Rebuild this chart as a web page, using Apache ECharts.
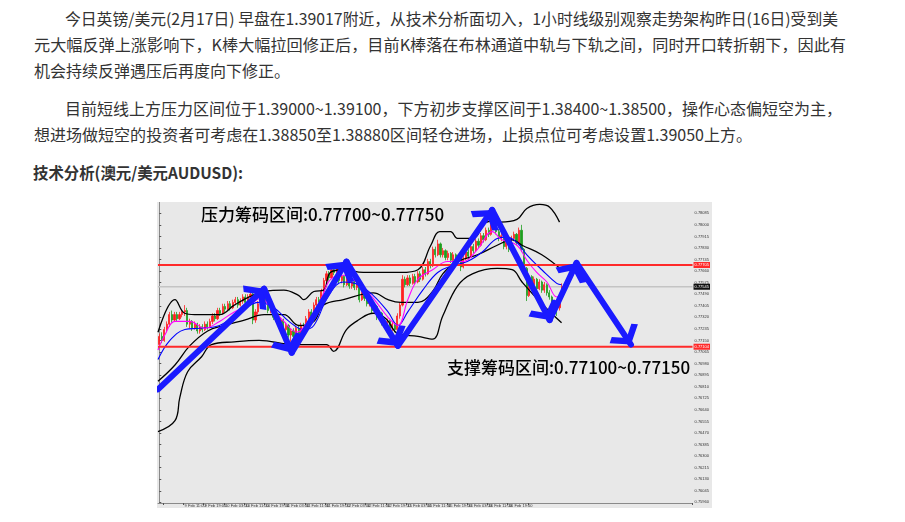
<!DOCTYPE html>
<html><head><meta charset="utf-8">
<script src="https://cdn.jsdelivr.net/npm/echarts@6/dist/echarts.min.js"></script>
<style>
html,body{margin:0;padding:0;background:#fff;width:905px;height:522px;overflow:hidden;}
.ln{position:absolute;white-space:nowrap;font-family:"Noto Sans CJK SC",sans-serif;font-size:16px;line-height:26px;color:#333;transform-origin:0 50%;}
.h{font-weight:bold;}
#chart{position:absolute;left:157px;top:202px;width:555px;height:306px;background:#e8e8e8;}
</style></head><body>
<div class="ln" style="left:65px;top:5px" data-w="773">今日英镑/美元(2月17日) 早盘在1.39017附近，从技术分析面切入，1小时线级别观察走势架构昨日(16日)受到美</div>
<div class="ln" style="left:34px;top:31px" data-w="812">元大幅反弹上涨影响下，K棒大幅拉回修正后，目前K棒落在布林通道中轨与下轨之间，同时开口转折朝下，因此有</div>
<div class="ln" style="left:34px;top:57px">机会持续反弹遇压后再度向下修正。</div>
<div class="ln" style="left:65px;top:95px" data-w="777">目前短线上方压力区间位于1.39000~1.39100，下方初步支撑区间于1.38400~1.38500，操作心态偏短空为主，</div>
<div class="ln" style="left:34px;top:121px" data-w="718">想进场做短空的投资者可考虑在1.38850至1.38880区间轻仓进场，止损点位可考虑设置1.39050上方。</div>
<div class="ln h" style="left:33px;top:159px" data-w="210">技术分析(澳元/美元AUDUSD):</div>
<div id="chart"></div>
<script>
// ---------- data ----------
const yTickValues = [0.78085,0.78000,0.77915,0.77830,0.77745,0.77660,0.77575,0.77490,0.77405,0.77320,0.77235,0.77150,0.77065,0.76980,0.76895,0.76810,0.76725,0.76640,0.76555,0.76470,0.76385,0.76300,0.76215,0.76130,0.76045,0.75960];
const xTickLabels = ['9 Feb 03:00','9 Feb 11:00','9 Feb 19:00','10 Feb 03:00','10 Feb 11:00','10 Feb 19:00','11 Feb 03:00','11 Feb 11:00','11 Feb 19:00','12 Feb 03:00','12 Feb 11:00','12 Feb 19:00','15 Feb 03:00','15 Feb 11:00','15 Feb 19:00','16 Feb 03:00','16 Feb 11:00','16 Feb 19:00','17 Feb 03:00'];
const xTickFirst = 2, xTickStep = 8, barSlots = 211;
// [open, close, low, high]
const candles = [
[.7712,.7718,.7710,.7720],[.7718,.7715,.7713,.7721],[.7715,.7723,.7714,.7725],[.7723,.7727,.7721,.7729],[.7727,.7734,.7725,.7736],
[.7734,.7730,.7728,.7737],[.7730,.7734,.7729,.7736],[.7734,.7731,.7729,.7736],[.7731,.7734,.7730,.7736],[.7734,.7736,.7732,.7738],
[.7736,.7737,.7733,.7741],[.7737,.7727,.7725,.7739],[.7727,.7729,.7724,.7731],[.7729,.7724,.7722,.7730],[.7724,.7727,.7723,.7729],
[.7727,.7722,.7720,.7728],[.7722,.7725,.7720,.7727],[.7725,.7723,.7721,.7727],[.7723,.7727,.7722,.7729],[.7727,.7725,.7723,.7729],
[.7725,.7729,.7724,.7731],[.7729,.7733,.7727,.7735],[.7733,.7731,.7729,.7735],[.7731,.7737,.7730,.7739],[.7737,.7735,.7733,.7739],
[.7735,.7740,.7734,.7742],[.7740,.7738,.7736,.7742],[.7738,.7742,.7737,.7744],[.7742,.7739,.7737,.7744],[.7739,.7743,.7738,.7745],
[.7743,.7745,.7741,.7747],[.7745,.7741,.7739,.7747],[.7741,.7744,.7740,.7746],[.7744,.7747,.7742,.7749],[.7747,.7743,.7741,.7749],
[.7743,.7747,.7742,.7749],[.7747,.7749,.7745,.7751],[.7749,.7730,.7727,.7750],[.7730,.7736,.7728,.7738],[.7736,.7742,.7734,.7744],
[.7742,.7749,.7740,.7751],[.7749,.7752,.7747,.7755],[.7752,.7744,.7742,.7754],[.7744,.7737,.7735,.7746],[.7737,.7740,.7735,.7742],
[.7740,.7732,.7730,.7741],[.7732,.7734,.7729,.7736],[.7734,.7727,.7725,.7735],[.7727,.7730,.7725,.7732],[.7730,.7723,.7721,.7731],
[.7723,.7726,.7721,.7728],[.7726,.7719,.7717,.7727],[.7719,.7722,.7714,.7724],[.7722,.7718,.7716,.7724],[.7718,.7724,.7717,.7726],
[.7724,.7720,.7718,.7726],[.7720,.7726,.7719,.7728],[.7726,.7724,.7722,.7728],[.7724,.7731,.7723,.7733],[.7731,.7736,.7729,.7738],
[.7736,.7733,.7731,.7738],[.7733,.7741,.7732,.7743],[.7741,.7745,.7739,.7747],[.7745,.7743,.7741,.7747],[.7743,.7751,.7742,.7753],
[.7751,.7759,.7749,.7761],[.7759,.7764,.7757,.7766],[.7764,.7761,.7759,.7766],[.7761,.7767,.7760,.7770],[.7767,.7765,.7763,.7769],
[.7765,.7768,.7763,.7771],[.7768,.7759,.7757,.7769],[.7759,.7762,.7757,.7764],[.7762,.7756,.7754,.7763],[.7756,.7760,.7755,.7762],
[.7760,.7755,.7753,.7761],[.7755,.7758,.7753,.7760],[.7758,.7754,.7752,.7760],[.7754,.7757,.7752,.7759],[.7757,.7745,.7743,.7758],
[.7745,.7750,.7744,.7752],[.7750,.7746,.7744,.7752],[.7746,.7742,.7740,.7748],[.7742,.7745,.7740,.7747],[.7745,.7737,.7735,.7746],
[.7737,.7740,.7735,.7742],[.7740,.7732,.7730,.7741],[.7732,.7735,.7730,.7737],[.7735,.7728,.7726,.7736],[.7728,.7726,.7724,.7731],
[.7726,.7729,.7724,.7731],[.7729,.7724,.7720,.7730],[.7724,.7727,.7722,.7729],[.7727,.7723,.7721,.7728],[.7723,.7733,.7722,.7735],
[.7733,.7741,.7731,.7743],[.7741,.7760,.7740,.7763],[.7760,.7756,.7754,.7762],[.7756,.7761,.7755,.7763],[.7761,.7757,.7755,.7763],
[.7757,.7762,.7756,.7764],[.7762,.7758,.7756,.7764],[.7758,.7764,.7757,.7766],[.7764,.7760,.7758,.7766],[.7760,.7767,.7759,.7769],
[.7767,.7764,.7762,.7769],[.7764,.7773,.7763,.7775],[.7773,.7770,.7768,.7775],[.7770,.7782,.7769,.7784],[.7782,.7778,.7776,.7784],
[.7778,.7786,.7777,.7789],[.7786,.7778,.7776,.7787],[.7778,.7781,.7776,.7783],[.7781,.7776,.7774,.7782],[.7776,.7779,.7774,.7781],
[.7779,.7774,.7772,.7780],[.7774,.7778,.7773,.7780],[.7778,.7773,.7771,.7779],[.7773,.7776,.7771,.7778],[.7776,.7769,.7766,.7777],
[.7769,.7775,.7768,.7777],[.7775,.7780,.7774,.7782],[.7780,.7777,.7775,.7782],[.7777,.7784,.7776,.7786],[.7784,.7781,.7779,.7786],
[.7781,.7788,.7780,.7790],[.7788,.7785,.7783,.7790],[.7785,.7792,.7784,.7794],[.7792,.7789,.7787,.7794],[.7789,.7796,.7788,.7798],
[.7796,.7793,.7791,.7798],[.7793,.7800,.7792,.7802],[.7800,.7803,.7798,.7806],[.7803,.7795,.7793,.7804],[.7795,.7790,.7788,.7797],
[.7790,.7792,.7788,.7794],[.7792,.7784,.7782,.7793],[.7784,.7787,.7782,.7789],[.7787,.7782,.7780,.7788],[.7782,.7790,.7781,.7792],
[.7790,.7793,.7788,.7795],[.7793,.7787,.7785,.7794],[.7787,.7796,.7786,.7798],[.7796,.7782,.7780,.7800],[.7782,.7768,.7766,.7783],
[.7768,.7748,.7744,.7769],[.7748,.7762,.7747,.7764],[.7762,.7756,.7754,.7763],[.7756,.7760,.7754,.7762],[.7760,.7753,.7751,.7761],
[.7753,.7758,.7752,.7760],[.7758,.7752,.7750,.7759],[.7752,.7756,.7750,.7758],[.7756,.7750,.7748,.7757],[.7750,.7747,.7745,.7752],
[.7747,.7740,.7736,.7748],[.7740,.7743,.7738,.7745],[.7743,.7739,.7733,.7744],[.7739,.7748,.7737,.7750],[.7748,.77545,.7746,.7757]
];
// Bollinger bands and moving averages, read at sparse bars: [bar, price]
const bandUpper = [[-0.5,.7721],[6.2,.7745],[10,.7735],[14,.7734],[23.8,.7734],[29.6,.7741],[35.5,.7747],[41.4,.7751],[49.2,.7752],[55.1,.7748],[57,.7745],[61,.7751],[64.9,.7752],[67.5,.7765],[72.7,.7767],[80.5,.7765],[88.4,.7765],[95.4,.7765],[102.1,.7767],[107.2,.7785],[110.7,.7795],[115,.7795],[117.7,.7790],[121.6,.7790],[124.8,.7791],[128.3,.7801],[132.2,.7803],[134.6,.7802],[141.2,.7804],[145.1,.7812],[150.2,.7815],[154.1,.7813],[158,.7802]];
const bandMiddle = [[-0.5,.7685],[6.2,.7697],[12,.7711],[19.1,.7722],[25.7,.7726],[33.6,.7730],[41.4,.7734],[49.2,.7734],[55.1,.7726],[61,.7729],[64.9,.7741],[72.7,.7745],[84.5,.7750],[90.3,.7745],[95.4,.7743],[102.1,.7743],[107.9,.7751],[111.9,.7764],[117.7,.7773],[125.6,.7778],[133.4,.7785],[139.3,.7789],[143.2,.7785],[151,.7778],[158.8,.7767]];
const bandLower = [[-0.5,.7648],[6.2,.7656],[8.1,.7673],[11.2,.7692],[16.7,.7703],[20.6,.7712],[29.6,.7714],[39.4,.7715],[53.1,.7712],[66,.7712],[68.8,.7707],[73.9,.7723],[78.6,.7730],[84.5,.7735],[89.5,.7731],[94.2,.7720],[102.1,.7718],[107.9,.7716],[111.9,.7733],[117.7,.7755],[123.6,.7764],[133.4,.7768],[139.3,.7767],[143.2,.7758],[151,.7742],[158.8,.7728]];
const maFast = [[-0.5,.7708],[2.2,.7719],[6.2,.7729],[12,.7729],[17.9,.7724],[23.8,.7729],[29.6,.7736],[35.5,.7741],[40.2,.7746],[43.3,.7741],[49.2,.7729],[54.3,.7721],[59,.7730],[63.7,.7745],[67.6,.7760],[72.7,.7763],[78.6,.7757],[84.5,.7746],[90.3,.7732],[94.2,.7726],[98.1,.7745],[102.1,.7760],[107.9,.7767],[113.8,.7773],[119.7,.7773],[125.6,.7782],[131.4,.7795],[135.3,.7789],[141.2,.7785],[145.1,.7774],[149,.7765],[153,.7758],[156.9,.7747],[158.8,.7750]];
const maSlow = [[-0.5,.7701],[4.2,.7715],[10.1,.7723],[15.9,.7724],[23.8,.7726],[31.6,.7736],[39.4,.7743],[45.3,.7739],[51.2,.7729],[57,.7723],[61,.7726],[66.8,.7748],[72.7,.7758],[78.6,.7756],[84.5,.7748],[90.3,.7736],[94.2,.7726],[98.1,.7736],[104,.7752],[109.9,.7765],[115.8,.7770],[121.6,.7773],[127.5,.7780],[133.4,.7790],[137.3,.7791],[141.2,.7787],[145.1,.7778],[151,.7767],[156.9,.7757],[158.8,.7756]];
const zoneLines = [0.77705, 0.77104];
const lastPrice = 0.77545;
// Blue zig-zag forecast path: [bar, price]
const arrowPts = [[-0.5,.7679],[41.4,.7753],[52.3,.7706],[73.9,.7773],[94.2,.7711],[131.4,.7811],[154.1,.7730],[164.7,.7772],[186.2,.7712]];
const notes = ['压力筹码区间:0.77700~0.77750', '支撑筹码区间:0.77100~0.77150'];
const Y_MIN = 0.75955, Y_MAX = 0.78168;

// ---------- text fitting ----------
function fit(){
  document.querySelectorAll('.ln[data-w]').forEach(el=>{
    el.style.transform='none';
    const w = el.getBoundingClientRect().width;
    el.style.transform = 'scaleX(' + (+el.dataset.w / w) + ')';
  });
}
fit();
if (document.fonts && document.fonts.ready) document.fonts.ready.then(fit);

// ---------- chart ----------
const cats = Array.from({length: barSlots}, (_, i) => i);
const tickMap = {};
xTickLabels.forEach((t, k) => { tickMap[xTickFirst + k * xTickStep] = t; });
const segs = [];
for (let i = 1; i < arrowPts.length; i++) segs.push({coords: [arrowPts[i-1], arrowPts[i]]});
const CHEVRON = 'path://M13,0 L26,13 L22,17 L13,8 L4,17 L0,13 Z M13,-17 L13.01,-17 L13,-16.99 Z';

const chart = echarts.init(document.getElementById('chart'));
const lineS = (data, color, w) => ({type:'line', xAxisIndex:1, data, smooth:0.4, symbol:'none', silent:true,
  lineStyle:{color, width:w}, z:3});
const levelS = (v, color, lineColor, w, z) => ({type:'line', xAxisIndex:1, data:[[-0.5, v],[barSlots-0.5, v]],
  symbol:'none', silent:true, lineStyle:{color:lineColor, width:w}, z,
  endLabel:{show:true, formatter:v.toFixed(5), fontSize:4, color:'#fff', backgroundColor:color, padding:[1,1], distance:1}});
chart.setOption({
  animation:false,
  backgroundColor:'#e8e8e8',
  grid:{left:1, right:15, top:0, bottom:5},
  xAxis:[
    {type:'category', data:cats, boundaryGap:true,
     axisLine:{lineStyle:{color:'#8a8a8a', width:1}},
     axisTick:{show:true, interval:(i)=>tickMap[i]!==undefined, length:2, lineStyle:{color:'#555'}},
     axisLabel:{interval:(i)=>tickMap[i]!==undefined, formatter:(v,i)=>tickMap[i]||'', fontSize:4, color:'#333', margin:1, align:'left'},
     splitLine:{show:false}},
    {type:'value', min:-0.5, max:barSlots-0.5, show:false}
  ],
  yAxis:{type:'value', position:'right', min:Y_MIN, max:Y_MAX,
    axisLine:{show:true, lineStyle:{color:'#8a8a8a'}},
    axisTick:{show:true, customValues:yTickValues, length:2, lineStyle:{color:'#555'}},
    axisLabel:{customValues:yTickValues, formatter:(v)=>v.toFixed(5), fontSize:4, color:'#333', margin:2},
    splitLine:{show:false}},
  series:[
    levelS(lastPrice, '#111', '#c4c4c4', 1.5, 1),
    {type:'candlestick', data:candles, barWidth:1.6, silent:true,
     itemStyle:{color:'#ff1f1f', color0:'#1e9e1e', borderColor:'#ff1f1f', borderColor0:'#1e9e1e', borderWidth:0.8},
     z:2},
    lineS(bandUpper, '#000', 1.3),
    lineS(bandMiddle, '#000', 1.3),
    lineS(bandLower, '#000', 1.3),
    lineS(maSlow, '#0000ff', 1.1),
    lineS(maFast, '#ff00ff', 1.1),
    levelS(zoneLines[0], '#ff2a2a', '#ff2a2a', 2, 4),
    levelS(zoneLines[1], '#ff2a2a', '#ff2a2a', 2, 4),
    {type:'lines', coordinateSystem:'cartesian2d', xAxisIndex:1, yAxisIndex:0, data:segs, silent:true,
     symbol:['none', CHEVRON], symbolSize:[26,34],
     lineStyle:{color:'#1a1aff', width:6, opacity:1, cap:'round'}, z:6}
  ],
  graphic:[
    {type:'text', left:44, top:4, z:10, style:{text:notes[0], fontSize:17, fontWeight:500, fontFamily:'Noto Sans CJK SC', fill:'#000'}},
    {type:'text', left:290, top:157, z:10, style:{text:notes[1], fontSize:17, fontWeight:500, fontFamily:'Noto Sans CJK SC', fill:'#000'}}
  ]
});
</script>
</body></html>
